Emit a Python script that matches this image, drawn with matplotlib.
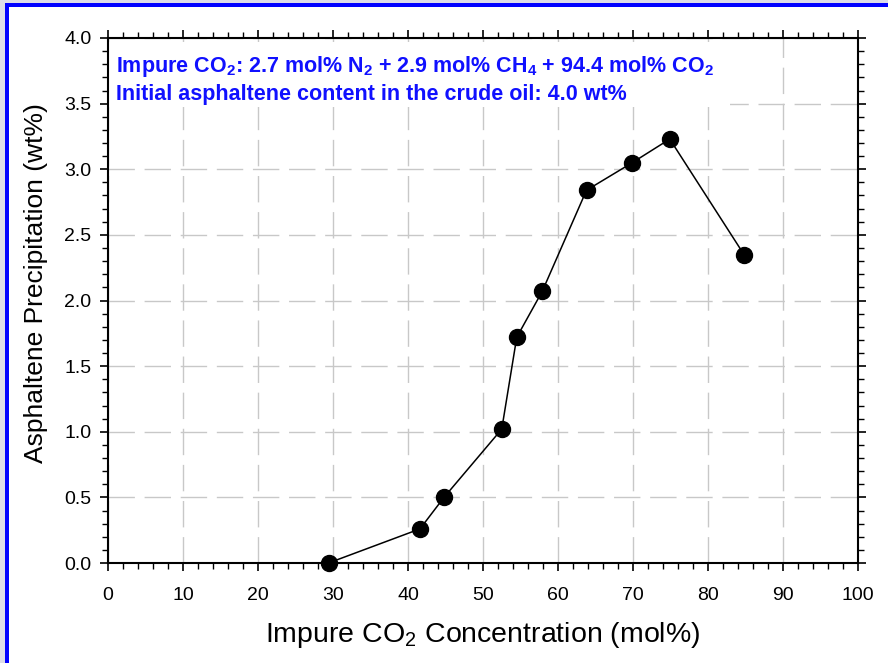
import matplotlib
matplotlib.use("Agg")
import matplotlib.pyplot as plt
from matplotlib import font_manager
from matplotlib.patches import Rectangle
from matplotlib.ticker import MultipleLocator

# Impure CO2 concentration (mol%) vs. asphaltene precipitation (wt%)
co2_conc = [29.4, 41.6, 44.8, 52.5, 54.5, 57.9, 63.8, 69.9, 74.9, 84.8]
precip = [0.00, 0.26, 0.50, 1.02, 1.72, 2.07, 2.84, 3.05, 3.23, 2.35]

x_ticks = [0, 10, 20, 30, 40, 50, 60, 70, 80, 90, 100]
y_ticks = [0.0, 0.5, 1.0, 1.5, 2.0, 2.5, 3.0, 3.5, 4.0]

note_lines = [
    "Impure CO$_\\mathregular{2}$: 2.7 mol% N$_\\mathregular{2}$ + 2.9 mol% "
    "CH$_\\mathregular{4}$ + 94.4 mol% CO$_\\mathregular{2}$",
    "Initial asphaltene content in the crude oil: 4.0 wt%",
]

# condensed face for the annotation if present, otherwise regular Liberation Sans
installed = {f.name for f in font_manager.fontManager.ttflist}
if "Liberation Sans Narrow" in installed:
    note_family, note_size = "Liberation Sans Narrow", 18
else:
    note_family, note_size = "Liberation Sans", 15.5

W, H = 888, 663
fig = plt.figure(figsize=(W / 100, H / 100), dpi=100)
fig.patch.set_facecolor("#dcdce8")

# blue window frame (top and left edges), white panel inside
fig.patches.append(Rectangle((5 / W, -0.1), 1.2, (H - 3) / H + 0.1,
                             transform=fig.transFigure, facecolor="#0000ff",
                             edgecolor="none", zorder=-3))
fig.patches.append(Rectangle((8.5 / W, -0.1), 1.2, (H - 7) / H + 0.1,
                             transform=fig.transFigure, facecolor="white",
                             edgecolor="none", zorder=-2))

ax = fig.add_axes([108 / W, 1 - 563 / H, 750 / W, 525 / H])
ax.set_facecolor("white")
ax.set_axisbelow(True)

ax.plot(co2_conc, precip, color="black", lw=1.1, marker="o", ms=11.5,
        mfc="black", mec="black", zorder=5, clip_on=False)

ax.set_xlim(0, 100)
ax.set_ylim(0, 4.0)
ax.set_xticks(x_ticks)
ax.set_yticks(y_ticks)
ax.set_xticklabels([str(v) for v in x_ticks])
ax.set_yticklabels([f"{v:.1f}" for v in y_ticks])
ax.xaxis.set_minor_locator(MultipleLocator(2))
ax.yaxis.set_minor_locator(MultipleLocator(0.1))

ax.grid(True, which="major", color="#c8c8c8", lw=1.0, linestyle=(0, (19, 7)))

for sp in ax.spines.values():
    sp.set_linewidth(1.5)
    sp.set_color("black")

tick_font = "Liberation Sans"
ax.tick_params(which="major", direction="out", length=6, width=1.2,
               top=True, right=True, labelsize=14, colors="black")
ax.tick_params(which="minor", direction="out", length=4, width=1.0,
               top=True, right=True)
ax.tick_params(axis="x", which="major", pad=11)
ax.tick_params(axis="y", which="major", pad=6)
for lab in ax.get_xticklabels() + ax.get_yticklabels():
    lab.set_fontfamily(tick_font)

ax.set_xlabel("Impure CO$_\\mathregular{2}$ Concentration (mol%)",
              fontfamily=tick_font, fontsize=20.5)
ax.set_ylabel("Asphaltene Precipitation (wt%)",
              fontfamily=tick_font, fontsize=19)
ax.xaxis.set_label_coords(0.5, -0.108)
ax.yaxis.set_label_coords(-0.08, 0.533)

# white backing behind the annotation block
ax.add_patch(Rectangle((0.0, 0.869), 0.829, 0.123, transform=ax.transAxes,
                       facecolor="white", edgecolor="none", zorder=1))
for line, ypos in zip(note_lines, [0.935, 0.882]):
    ax.text(0.0107, ypos, line, transform=ax.transAxes, ha="left",
            va="baseline", color="#1010ff", fontsize=note_size,
            fontfamily=note_family, fontweight="bold", zorder=3)

fig.savefig("out.png", dpi=100, facecolor=fig.get_facecolor())
